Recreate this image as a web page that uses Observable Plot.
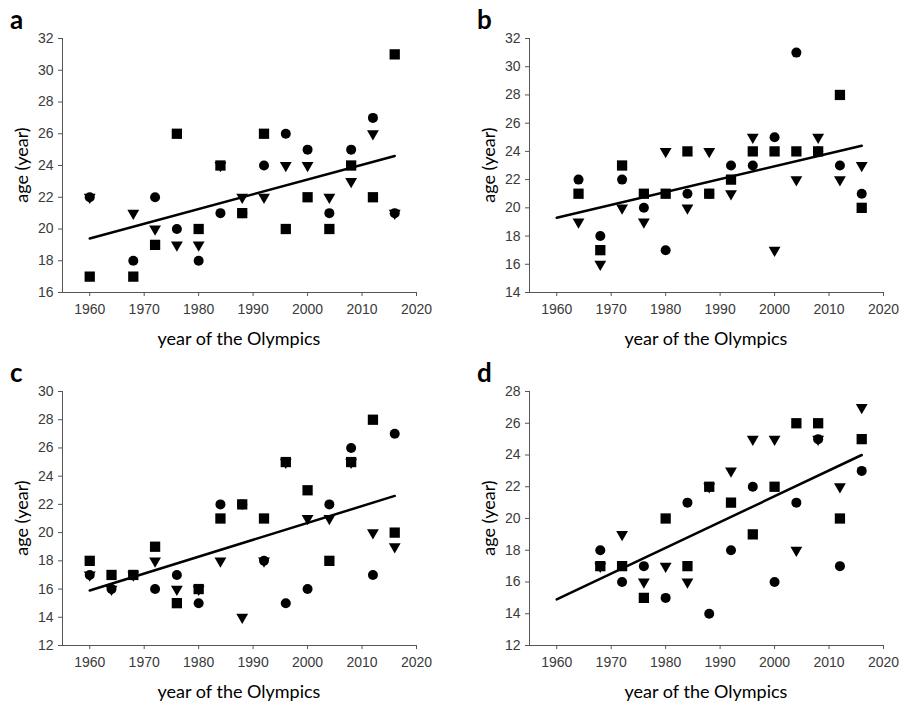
<!DOCTYPE html>
<html><head><meta charset="utf-8">
<script src="https://cdn.jsdelivr.net/npm/d3@7"></script>
<script src="https://cdn.jsdelivr.net/npm/@observablehq/plot@0.6"></script>
<style>
body{margin:0;background:#fff;}
#fig{position:relative;width:901px;height:704px;overflow:hidden;}
.panel{position:absolute;width:434px;height:345px;}
.panel svg{position:absolute;left:0;top:0;overflow:visible;}
.letter{position:absolute;left:10px;top:3px;font:bold 26px Lato, sans-serif;color:#000;}
.ytitle{position:absolute;left:21px;top:165px;transform:translate(-50%,-50%) rotate(-90deg);font:18px Lato, sans-serif;white-space:nowrap;color:#000;}
.xtitle{position:absolute;left:239px;top:338px;transform:translate(-50%,-50%);font:18px Lato, sans-serif;white-space:nowrap;color:#000;}
</style>
</head><body>
<div id="fig"></div>
<script>
// ---- data ----
const yearsA = [1960,1968,1972,1976,1980,1984,1988,1992,1996,2000,2004,2008,2012,2016];
const circA  = [22,18,22,20,18,21,21,24,26,25,21,25,27,21];
const triA   = [22,21,20,19,19,24,22,22,24,24,22,23,26,21];
const sqA    = [17,17,19,26,20,24,21,26,20,22,20,24,22,31];
const trendA = [19.4,24.6];

const yearsB = [1964,1968,1972,1976,1980,1984,1988,1992,1996,2000,2004,2008,2012,2016];
const circB  = [22,18,22,20,17,21,21,23,23,25,31,24,23,21];
const triB   = [19,16,20,19,24,20,24,21,25,17,22,25,22,23];
const sqB    = [21,17,23,21,21,24,21,22,24,24,24,24,28,20];
const trendB = [19.3,24.4];

const yearsC = [1960,1964,1968,1972,1976,1980,1984,1988,1992,1996,2000,2004,2008,2012,2016];
const circC  = [17,16,17,16,17,15,22,22,18,15,16,22,26,17,27];
const triC   = [17,16,17,18,16,16,18,14,18,25,21,21,25,20,19];
const sqC    = [18,17,17,19,15,16,21,22,21,25,23,18,25,28,20];
const trendC = [15.9,22.6];

const yearsD = [1968,1972,1976,1980,1984,1988,1992,1996,2000,2004,2008,2012,2016];
const circD  = [18,16,17,15,21,14,18,22,16,21,25,17,23];
const triD   = [17,19,16,17,16,22,23,25,25,18,25,22,27];
const sqD    = [17,17,15,20,17,22,21,19,22,26,26,20,25];
const trendD = [14.9,24.0];

const xTicks = [1960,1970,1980,1990,2000,2010,2020];
const yDomains = {a:[16,32], b:[14,32], c:[12,30], d:[12,28]};
const trendYears = [1960,2016];
const xLabel = "year of the Olympics";
const yLabel = "age (year)";

const panels = [
  {id:"a", left:0,   top:0,   years:yearsA, circ:circA, tri:triA, sq:sqA, trend:trendA},
  {id:"b", left:467, top:0,   years:yearsB, circ:circB, tri:triB, sq:sqB, trend:trendB},
  {id:"c", left:0,   top:353, years:yearsC, circ:circC, tri:triC, sq:sqC, trend:trendC},
  {id:"d", left:467, top:353, years:yearsD, circ:circD, tri:triD, sq:sqD, trend:trendD}
];

const fig = document.getElementById("fig");
for (const p of panels) {
  const dom = yDomains[p.id];
  const toRows = vals => p.years.map((yr,i)=>({year:yr, age:vals[i]})).filter(d=>d.age!=null);
  const trendRows = trendYears.map((yr,i)=>({year:yr, age:p.trend[i]}));
  const chart = Plot.plot({
    width:434, height:345,
    marginLeft:62, marginRight:18, marginTop:38, marginBottom:53,
    style:{fontFamily:"'Liberation Sans', Arial, sans-serif", fontSize:"14px", color:"#3a3a3a", background:"transparent"},
    x:{domain:[1955,2020]},
    y:{domain:dom},
    marks:[
      Plot.ruleY([dom[0]], {stroke:"#555", strokeWidth:1}),
      Plot.ruleX([1955], {stroke:"#555", strokeWidth:1}),
      Plot.axisX({ticks:xTicks, tickFormat:"d", tickSize:4, tickPadding:8, label:null, stroke:"#555"}),
      Plot.axisY({ticks:d3.range(dom[0], dom[1]+1, 2), tickSize:4, tickPadding:5, label:null, stroke:"#555"}),
      Plot.dot(toRows(p.circ), {x:"year", y:"age", r:5, fill:"black", symbol:"circle"}),
      Plot.dot(toRows(p.tri), {x:"year", y:"age", r:4.4, fill:"black", symbol:"triangle", rotate:180}),
      Plot.dot(toRows(p.sq), {x:"year", y:"age", r:5.8, fill:"black", symbol:"square"}),
      Plot.line(trendRows, {x:"year", y:"age", stroke:"black", strokeWidth:2.5})
    ]
  });
  const div = document.createElement("div");
  div.className = "panel";
  div.style.left = p.left + "px";
  div.style.top = p.top + "px";
  div.appendChild(chart);
  const l = document.createElement("div"); l.className="letter"; l.textContent=p.id; div.appendChild(l);
  const yt = document.createElement("div"); yt.className="ytitle"; yt.textContent=yLabel; div.appendChild(yt);
  const xt = document.createElement("div"); xt.className="xtitle"; xt.textContent=xLabel; div.appendChild(xt);
  fig.appendChild(div);
}
</script>
</body></html>
